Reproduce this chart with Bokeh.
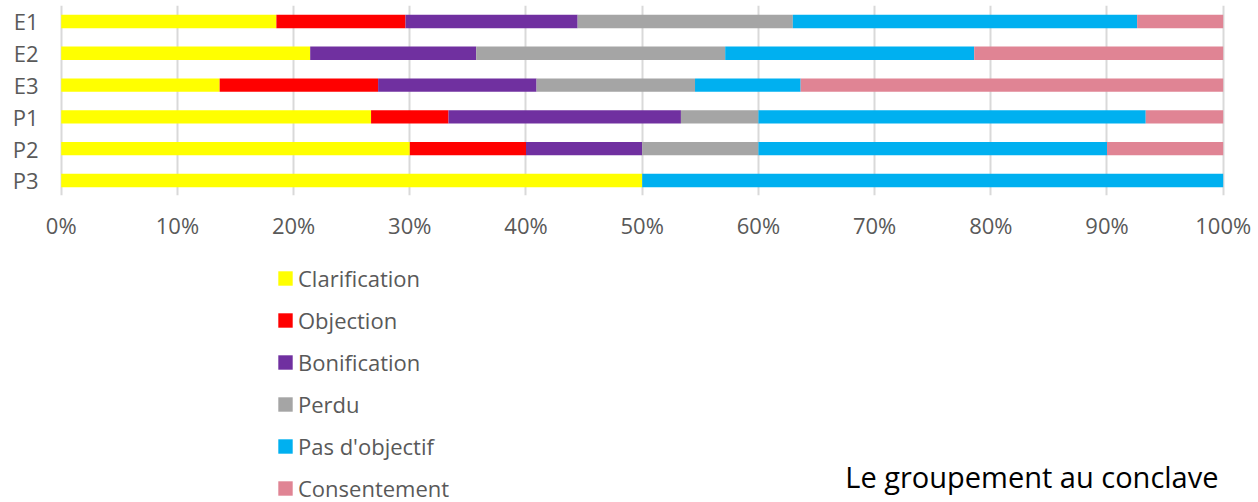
from bokeh.plotting import figure
from bokeh.models import (ColumnDataSource, Range1d, FixedTicker, NumeralTickFormatter,
                          Label, Legend, LegendItem)
from bokeh.layouts import column
from bokeh.embed import file_html
from bokeh.resources import INLINE

# ---- data (counts per group) ----
categories = ["E1", "E2", "E3", "P1", "P2", "P3"]
series_names = ["Clarification", "Objection", "Bonification", "Perdu",
                "Pas d'objectif", "Consentement"]
clarification = [5, 3, 3, 4, 3, 1]
objection = [3, 0, 3, 1, 1, 0]
bonification = [4, 2, 3, 3, 1, 0]
perdu = [5, 3, 3, 1, 1, 0]
pas_objectif = [8, 3, 2, 5, 3, 1]
consentement = [2, 3, 8, 1, 1, 0]
x_ticks = [0.0, 0.1, 0.2, 0.3, 0.4, 0.5, 0.6, 0.7, 0.8, 0.9, 1.0]
title_text = "Le groupement au conclave"

colors = ["#FFFF00", "#FF0000", "#7030A0", "#A5A5A5", "#00B0F0", "#E08494"]
series = [clarification, objection, bonification, perdu, pas_objectif, consentement]

n = len(categories)
totals = [sum(s[i] for s in series) for i in range(n)]
keys = ["s%d" % k for k in range(len(series))]
data = {"y": [n - i for i in range(n)]}
for k, s in zip(keys, series):
    data[k] = [s[i] / totals[i] for i in range(n)]
source = ColumnDataSource(data)

FONT = "Open Sans"
GREY = "#595959"

# ---------------- chart ----------------
p = figure(width=1258, height=250, output_backend="svg", toolbar_location=None,
           x_range=Range1d(-0.00232, 1.00284), y_range=Range1d(0.528, 6.503),
           min_border_left=58, min_border_right=32, min_border_top=5,
           min_border_bottom=55)
p.outline_line_color = None

p.hbar_stack(keys, y="y", height=0.42, fill_color=colors, line_color=None,
             source=source)

p.xaxis.ticker = FixedTicker(ticks=x_ticks)
p.xaxis.formatter = NumeralTickFormatter(format="0%")
p.xaxis.axis_line_color = None
p.xaxis.major_tick_line_color = None
p.xaxis.minor_tick_line_color = None
p.xaxis.major_label_text_font = FONT
p.xaxis.major_label_text_font_size = "22px"
p.xaxis.major_label_text_color = GREY
p.xaxis.major_label_standoff = 8

p.yaxis.ticker = FixedTicker(ticks=data["y"])
p.yaxis.major_label_overrides = {n - i: c for i, c in enumerate(categories)}
p.yaxis.axis_line_color = None
p.yaxis.major_tick_line_color = None
p.yaxis.minor_tick_line_color = None
p.yaxis.major_label_text_font = FONT
p.yaxis.major_label_text_font_size = "22px"
p.yaxis.major_label_text_color = GREY
p.yaxis.major_label_standoff = 14

p.xgrid.ticker = FixedTicker(ticks=x_ticks)
p.xgrid.grid_line_color = "#D9D9D9"
p.xgrid.grid_line_width = 2
p.ygrid.grid_line_color = None

# ---------------- legend + title area ----------------
# same series drawn on ranges that show nothing, only to feed the legend
q = figure(width=1258, height=252, output_backend="svg", toolbar_location=None,
           x_range=Range1d(100, 101), y_range=Range1d(100, 101),
           x_axis_location=None, y_axis_location=None,
           min_border_left=58, min_border_right=32, min_border_top=0,
           min_border_bottom=0)
q.outline_line_color = None
q.xgrid.grid_line_color = None
q.ygrid.grid_line_color = None
legend_renderers = q.hbar_stack(keys, y="y", height=0.42, fill_color=colors,
                                line_color=None, source=source)

lg = Legend(items=[LegendItem(label=nm, renderers=[r])
                   for nm, r in zip(series_names, legend_renderers)],
            location=(218, -1), orientation="vertical", padding=0, margin=0,
            spacing=12, glyph_width=18, glyph_height=18, label_standoff=4,
            label_text_font=FONT, label_text_font_size="22px",
            label_text_color=GREY, border_line_color=None,
            background_fill_alpha=0)
q.add_layout(lg, "center")

q.add_layout(Label(x=1160, y=7, x_units="screen", y_units="screen",
                   text=title_text, text_align="right", text_baseline="bottom",
                   text_font=FONT, text_font_size="29px", text_color="#000000"))

layout = column(p, q, spacing=0)
open("out.html", "w").write(file_html(layout, INLINE))
